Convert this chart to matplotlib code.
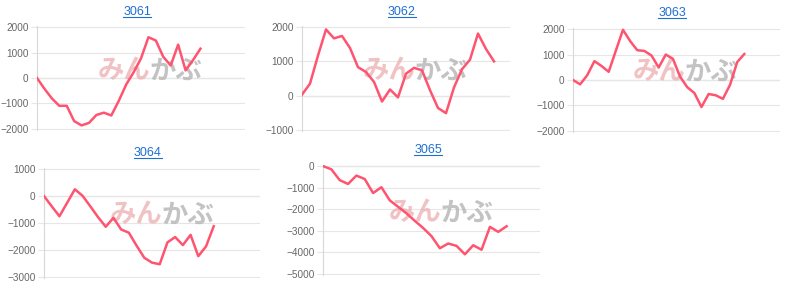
import numpy as np
import matplotlib.pyplot as plt
from matplotlib.lines import Line2D

plt.rcParams['font.family'] = ['Liberation Sans', 'DejaVu Sans']

W, H = 800, 289

codes = ['3061', '3062', '3063', '3064', '3065']

v3061 = [0, -420, -800, -1090, -1090, -1690, -1860, -1760, -1450, -1360, -1470, -900,
         -260, 220, 770, 1600, 1470, 830, 490, 1310, 300, 700, 1150]
v3062 = [30, 350, 1170, 1930, 1670, 1740, 1390, 830, 690, 400, -170, 180, -50, 640,
         810, 740, 160, -360, -510, 240, 770, 1050, 1810, 1360, 1000]
v3063 = [0, -170, 190, 740, 550, 320, 1150, 1970, 1530, 1170, 1140, 960, 490, 1000,
         830, 130, -280, -510, -1060, -550, -600, -740, -190, 700, 1020]
v3064 = [0, -380, -750, -250, 250, 10, -380, -780, -1140, -810, -1240, -1360, -1840,
         -2290, -2470, -2530, -1720, -1520, -1820, -1440, -2230, -1870, -1120]
v3065 = [0, -150, -650, -830, -440, -600, -1250, -980, -1590, -1890, -2190, -2540,
         -2870, -3250, -3810, -3590, -3700, -4090, -3670, -3880, -2820, -3050, -2790]

series = [v3061, v3062, v3063, v3064, v3065]
y_ranges = [(-2000, 2000), (-1000, 2000), (-2000, 2000), (-3000, 1000), (-5000, 0)]
x_slots = [28, 26, 29, 28, 26]

# plot boxes in pixels: x0, x1, y0 (top), y1 (bottom)
boxes = [(37, 245, 26, 130), (302, 510, 26, 131), (573, 780, 28, 132),
         (44, 260, 168, 278), (323, 540, 165, 275)]
title_pos = [(137, 12), (402, 12), (672, 13), (148, 153), (428, 150)]
mark_pos = [(150, 71), (415, 71), (685, 72), (162, 215), (441, 213)]

line_color = '#ff5470'
grid_color = '#e6e6e6'

fig = plt.figure(figsize=(8, 2.89), dpi=100)

titles = []
for code, vals, (ylo, yhi), slots, (x0, x1, y0, y1), tp, mp in zip(
        codes, series, y_ranges, x_slots, boxes, title_pos, mark_pos):
    ax = fig.add_axes([x0 / W, 1 - y1 / H, (x1 - x0) / W, (y1 - y0) / H])
    ax.plot(range(len(vals)), vals, color=line_color, lw=1.8, zorder=3)
    pad = (yhi - ylo) * 0.01
    ax.set_xlim(0, slots)
    ax.set_ylim(ylo - pad, yhi + pad)
    ax.set_yticks(np.arange(ylo, yhi + 1, 1000))
    ax.set_xticks([])
    ax.grid(axis='y', color=grid_color, lw=0.8, zorder=0)
    ax.axhline(0, color='#c4c4c4', lw=0.8, zorder=1)
    for s in ['top', 'right', 'bottom']:
        ax.spines[s].set_visible(False)
    ax.spines['left'].set_color('#d8d8d8')
    ax.spines['left'].set_linewidth(0.8)
    ax.tick_params(axis='y', length=4, width=0.8, color=grid_color,
                   labelsize=7.2, labelcolor='#666666', pad=2)
    ax.set_facecolor('none')

    # watermark
    fx = (mp[0] - x0) / (x1 - x0)
    fy = (y1 - mp[1]) / (y1 - y0)
    ax.text(fx, fy, 'みん', transform=ax.transAxes, ha='right', va='center',
            fontsize=19, fontweight='bold', color='#eba9ab', alpha=0.7,
            family=['Noto Sans CJK JP'], zorder=2)
    ax.text(fx, fy, 'かぶ', transform=ax.transAxes, ha='left', va='center',
            fontsize=19, fontweight='bold', color='#b5b5b5', alpha=0.8,
            family=['Noto Sans CJK JP'], zorder=2)

    t = fig.text(tp[0] / W, 1 - tp[1] / H, code, ha='center', va='center',
                 color='#1f6fd1', fontsize=9)
    titles.append(t)

# underline the titles like links
fig.canvas.draw()
for t in titles:
    bb = t.get_window_extent()
    yline = (bb.y0 + 1) / H
    fig.add_artist(Line2D([bb.x0 / W, bb.x1 / W], [yline, yline],
                          color='#1f6fd1', lw=0.8))

fig.savefig('out.png', dpi=100)
